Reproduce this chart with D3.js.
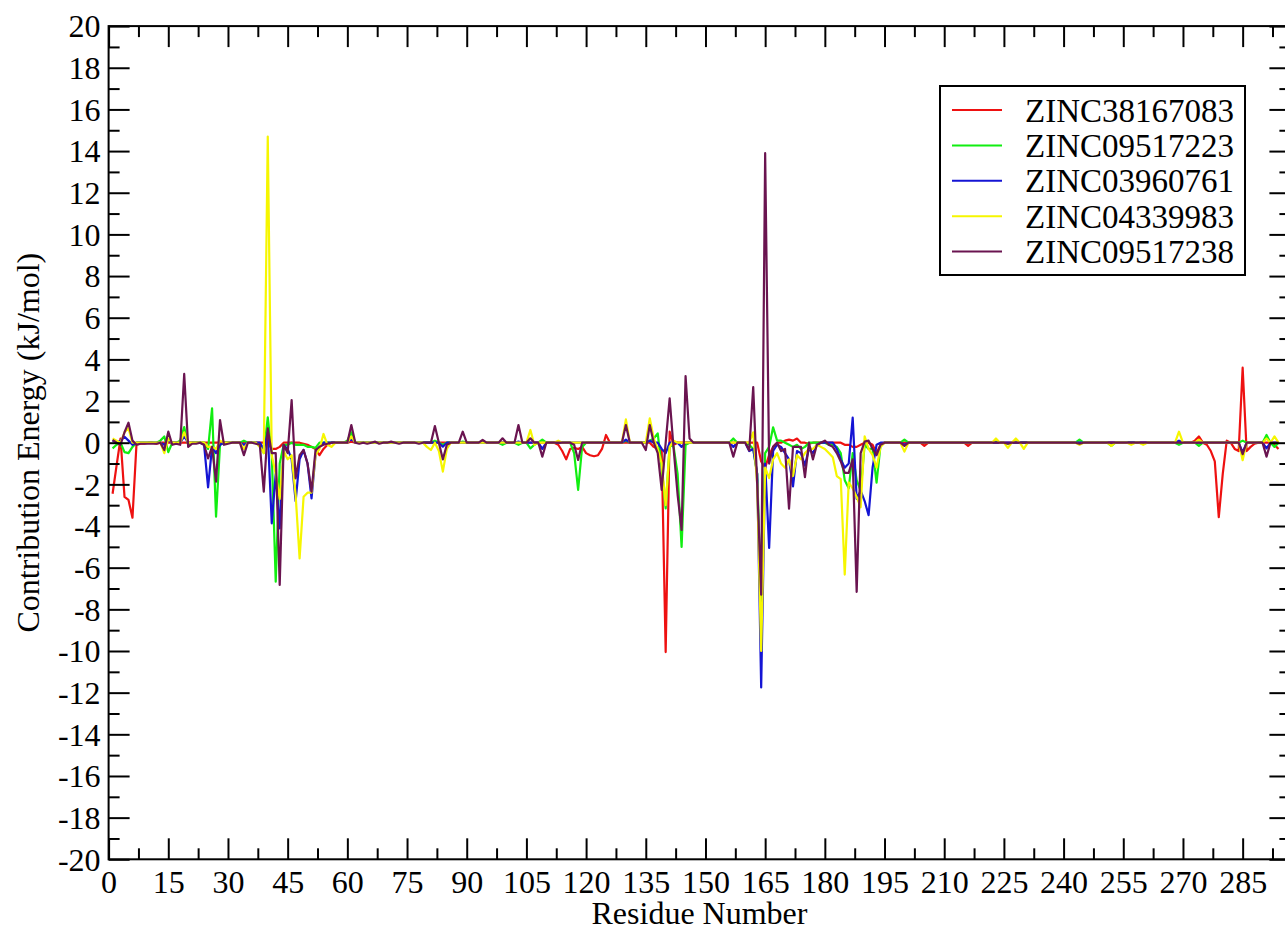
<!DOCTYPE html>
<html>
<head>
<meta charset="utf-8">
<script src="https://cdn.jsdelivr.net/npm/d3@7"></script>
<style>
  html, body { margin: 0; padding: 0; background: #ffffff; }
  svg { display: block; }
</style>
</head>
<body>
<svg id="chart" width="1285" height="930"></svg>
<script>
// ---------------- data ----------------
const firstResidue = 1;
const seriesNames = ["ZINC38167083", "ZINC09517223", "ZINC03960761", "ZINC04339983", "ZINC09517238"];
const xTickValues = [0, 15, 30, 45, 60, 75, 90, 105, 120, 135, 150, 165, 180, 195, 210, 225, 240, 255, 270, 285];
const yTickValues = [-20, -18, -16, -14, -12, -10, -8, -6, -4, -2, 0, 2, 4, 6, 8, 10, 12, 14, 16, 18, 20];

// ZINC38167083 (residues 1..294)
const red = [
-2.45,-1.1,0.2,-2.6,-2.75,-3.6,-0.1,-0.05,-0.05,0,
0,-0.05,0,0,0,0,0,0,0,0,
0,0,0,0,0,0,0,0,0,0,
0,0,0,0,0,0,0,0,0,0,
-0.3,-0.3,-0.2,0,0,0,0,0,-0.05,-0.1,
-0.2,-0.3,-0.6,-0.3,-0.1,0,0,0,0,0,
0.05,0,0,0,0,0,0,0,0,0,
0,0,0,0,0,0,0,0,0,0,
0,0,0,0,0,0,0,0,0,0,
0,0,0,0,0,0,0,0,0,0,
0,0,0,0,0,0,0,0,0,0,
0,0,-0.1,-0.4,-0.8,-0.3,-0.25,-0.3,-0.2,-0.5,
-0.6,-0.65,-0.6,-0.3,0.37,0,0,0,0,0,
0,0,0,0,0,0,-0.2,-0.3,-0.4,-10.05,
0.53,-0.1,0,0,0,0,0,0,0,0,
0,0,0,0,0,0,0,0,0,0,
0,0,0,-0.9,-1.2,-0.6,-0.2,0,0,0.1,
0.15,0.1,0.2,0,0,-0.05,0,0,0,0,
0,0,0,0,-0.1,-0.1,-0.2,-0.2,-0.1,0,
0,-0.1,-0.5,-0.1,0,0,0,0,0,0,
0,0,0,0,-0.15,0,0,0,0,0,
0,0,0,0,0,-0.15,0,0,0,0,
0,0,0,0,0,0,0,0,0,0,
0,0,0,0,0,0,0,0,0,0,
0,0,0,0,0,0,0,0,0,0,
0,0,0,0,0,0,0,0,0,0,
0,0,0,0,0,0,0,0,0,0,
0,0,0.1,0.3,0,-0.1,-0.4,-0.9,-3.58,-1.5,
0.1,0,-0.3,-0.4,3.6,-0.4,-0.2,-0.05,0,0,
0,0,-0.1,-0.3
];

// ZINC09517223
const green = [
-0.27,-0.1,0,-0.45,-0.5,-0.2,0,0,0,0,
0,0,0.1,0.3,-0.45,0,0,0.1,0.75,-0.1,
0,0,0,0,-0.3,1.65,-3.55,-0.1,0,0,
0,0,0,0.1,0,0,0,-0.1,-0.5,1.22,
-0.5,-6.67,-1.0,-0.1,-0.1,0,-0.1,-0.1,-0.1,-0.2,
-0.2,-0.25,0,0,0,0,0,0,0,0.1,
0.5,0,0,0,0,0,0,0,0,0,
0,0,0,0,0,0,0,0,0,0,
0,0.1,0,-0.1,0,0,0,0,0.05,0,
0,0,0,0,0,0,0,0,-0.1,0,
0,0,-0.1,0,0,-0.27,-0.1,0,0.15,0,
0,0,0,0,0,0,-0.5,-2.27,-0.2,0,
0,0,0,0,0,0,0,0,0,0.1,
0,0,0,0,0,0.1,0.2,0.45,-1.2,-3.15,
-0.1,-0.2,-1.5,-5.0,-0.1,0,0,0,0,0,
0,0,0,0,0,0,0.2,0,0,0,
-0.1,-0.3,-1.5,-7.6,-0.5,-0.2,0.74,0.1,0.1,0,
-0.1,-0.2,-0.1,-0.3,-0.2,0,0,0,0,0,
-0.1,-0.1,-0.2,-0.5,-1.8,-2.19,-0.5,-1.8,-2.3,-0.1,
-0.3,-0.3,-1.92,-0.1,0,0,0,0,0,0.15,
0,0,0,0,0,0,0,0,0,0,
0,0,0,0,0,0,0,0,0,0,
0,0,0.05,0,0,-0.05,0,0,0,0,
0,0,0,0,0,0,0,0,0,0,
0,0,0,0.15,0,0,0,0,0,0,
0,-0.15,0,0,0,0,0,0,0,-0.05,
0,0,0,0,0,0,0,0,-0.1,0,
0,0,0,-0.15,0,0,0,0,0,0,
0,0,0,0,0.1,0,0,0,0,0,
0.37,0,-0.2,0
];

// ZINC03960761
const blue = [
0.1,0,0.1,0.29,0.1,-0.1,0,0,0,0,
0,0,0,-0.1,0.1,0,0,0,0.3,0,
0,0,0,-0.1,-2.14,-0.2,-0.5,-0.1,0,0,
0,0,0,-0.1,0,0,0,0,-0.3,0.5,
-3.87,-1.5,-4.11,-0.11,-0.3,-0.8,-2.8,-0.8,-0.35,-1.0,
-2.67,-0.6,-0.2,0,0,0,0,0,0,0,
0.2,0,0,0,0,0,0,0,0,0,
0,0,0,0,0,0,0,0,0,0,
0,0,0,-0.19,0,0,0,0,0,0,
0,0,0,0,0,0,0,0,0,0,
0,0,0.05,0,0,0,0,0,-0.3,0,
0,0,0,0,0,0,0,0,0,0,
0,0,0,0,0,0,0,0,0,0.15,
0,0,0,0,0,0.1,0,0,-0.3,-0.5,
0,0,0,-0.2,0,0,0,0,0,0,
0,0,0,0,0,0,-0.2,0,0,0,
-0.4,-0.3,-1.5,-11.75,-1.0,-5.05,-0.4,-0.1,-0.2,-0.5,
-0.8,-2.1,-0.4,-0.5,-1.1,-0.3,-0.5,-0.1,0,0,
0,0,-0.3,-0.8,-1.2,-1.0,1.2,-2.7,-2.3,-2.8,
-3.48,-1.19,-0.1,0,0,0,0,0,0,-0.1,
0,0,0,0,0,0,0,0,0,0,
0,0,0,0,0,0,0,0,0,0,
0,0,0,0,0,0,0,0,0,0,
0,0,0,0,0,0,0,0,0,0,
0,0,0,0,0,0,0,0,0,0,
0,0,0,0,0,0,0,0,0,0,
0,0,0,0,0,0,0,0,0.1,0,
0,0,0,0,0,0,0,0,0,0,
0,0,0,0,-0.47,0,0,0,0,0,
-0.27,0,0,0
];

// ZINC04339983
const yellow = [
0.2,0.1,0,0.5,0.7,0,0,0,0,0,
0,0,0,-0.5,0.2,0,0,0,0.5,0,
0,0,0,0,-0.2,-0.2,-0.3,0.1,0,0,
0,0,0,-0.3,0,0,0,-0.2,-0.5,14.7,
-0.6,-1.5,-2.7,-0.4,-0.8,-0.6,-2.5,-5.55,-2.6,-2.4,
-2.4,-0.6,-0.3,0.42,-0.1,-0.2,0,0,0,0,
0.3,0,0,0,0,0,0,0,0,0,
0,0,0,0,0,0,0,0,0,-0.2,
-0.35,0,-0.4,-1.39,-0.3,0,0,0,0,0,
0,0,0,0,0,0,0,0,0,0,
0,0,0,0,0,0.61,-0.1,0,0,0,
0,0,0.1,0,0,0,0,0,0,0,
0,0,0,0,0,0,0,0,0,1.12,
0,0,0,0,0,1.17,0.2,-0.3,-1.0,-3.0,
-0.2,0.1,0,0,0,0,0,0,0,0,
0,0,0,0,0,0,0,0,0,0,
0,0.5,-2.0,-10.0,-1.2,-1.7,-0.8,-0.5,-1.0,-1.2,
-0.8,-1.6,-0.6,-0.8,-0.5,-0.3,-0.3,-0.1,-0.2,-0.3,
-0.5,-0.7,-1.6,-1.75,-6.33,-1.9,-2.2,-2.6,-3.1,0.3,
-0.3,-0.6,-1.2,-0.2,0,0,0,0,0,-0.43,
0,0,0,0,0,0,0,0,0,0,
0,0,0,0,0,0,0,0,0,0,
0,0,0.2,0,0,-0.25,0,0.2,0,-0.3,
0,0,0,0,0,0,0,0,0,0,
0,0,0,-0.1,0,0,0,0,0,0,
0,-0.15,0,0,0,0,-0.1,0,0,-0.1,
0,0,0,0,0,0,0,0,0.53,0,
0,0,0,0.15,0,0,0,0,0,0,
0,0,0,0,-0.84,0,0,0,0,0,
0.2,0,0.3,0
];

// ZINC09517238
const maroon = [
0.13,0,-0.1,0.5,0.96,0.1,-0.1,-0.05,-0.05,-0.05,
-0.05,-0.05,0,-0.35,0.53,-0.1,-0.05,-0.1,3.3,-0.2,
-0.05,-0.05,0,-0.1,-0.75,-0.2,-1.87,1.09,-0.1,-0.05,
0,0,0,-0.6,0,0,-0.05,-0.1,-2.35,0.69,
-0.5,-0.5,-6.83,-0.1,-0.5,2.05,-1.71,-0.6,-0.35,-1.0,
-2.35,-0.35,-0.2,-0.1,-0.05,0,0,0,0,0,
0.85,0,-0.05,0,-0.05,0,0.05,-0.05,0,0,
0.05,0,-0.05,0,0,0,0,-0.05,0,0,
0,0.8,0,-0.8,-0.1,0,0,0,0.53,0,
0,0,0,0.13,0,0,0,0,0.21,0,
0,0,0.85,0,0,0.21,0,0,-0.67,0,
0,0,0,0,0,0,-0.1,-0.83,0,0,
0,0,0,0,0,0,0,0,0,0.85,
0,0,0,0,-0.35,0.85,0,-0.5,-2.27,0,
2.13,-0.3,-2.5,-4.19,3.2,0.2,0,0,0,0,
0,0,0,0,0,0,-0.67,0,0,0,
-0.37,2.67,-2.0,-7.3,13.9,-1.0,-0.2,0,-0.4,-0.3,
-3.17,-0.2,-0.2,-0.2,-1.65,0,-0.8,-0.1,0,0.1,
-0.1,-0.2,-0.5,-0.9,-1.45,-1.45,-0.8,-7.16,-0.5,0.05,
0.1,-0.3,-0.6,-0.1,0,0,0,0,0,-0.15,
0,0,0,0,0,0,0,0,0,0,
0,0,0,0,0,0,0,0,0,0,
0,0,0,0,0,-0.05,0,0,0,0,
0,0,0,0,0,0,0,0,0,0,
0,0,0,-0.05,0,0,0,0,0,0,
0,0,0,0,0,0,0,0,0,0,
0,0,0,0,0,0,0,0,0,0,
0,0,0,0,0,0,0,0,0,0,
0,0,0,0,-0.55,0,0,0,0,0,
-0.67,0,0,0
];

const seriesValues = [red, green, blue, yellow, maroon];
const seriesColors = ["#ee1111", "#11ee11", "#1414d4", "#f6f600", "#6a1450"];

// single family name (Times-metric serif)
const FONT = '"Liberation Serif"';

// ---------------- layout ----------------
const svg = d3.select("#chart");
const plot = { left: 108.6, right: 1290.4, top: 26.1, bottom: 859.3 };
const x = d3.scaleLinear().domain([0, 297]).range([plot.left, plot.right]);
const y = d3.scaleLinear().domain([-20, 20]).range([plot.bottom, plot.top]);

const majorLen = 21, minorLen = 11;
const xMinor = d3.range(0, 297.01, 7.5).filter(v => !xTickValues.includes(v));
const yMinor = d3.range(-19, 20, 2);

// series lines
const line = d3.line().x((d, i) => x(i + firstResidue)).y(d => y(d));
const gLines = svg.append("g");
seriesValues.forEach((vals, k) => {
  gLines.append("path")
    .datum(vals)
    .attr("d", line)
    .attr("fill", "none")
    .attr("stroke", seriesColors[k])
    .attr("stroke-width", 2.2)
    .attr("stroke-linejoin", "round");
});

// frame
svg.append("rect")
  .attr("x", plot.left).attr("y", plot.top)
  .attr("width", plot.right - plot.left).attr("height", plot.bottom - plot.top)
  .attr("fill", "none").attr("stroke", "#000").attr("stroke-width", 2);

// inward ticks on all four sides (d3 axes)
function tickAxis(axisFn, scale, values, len, transform) {
  const g = svg.append("g").attr("transform", transform)
    .call(axisFn(scale).tickValues(values).tickSize(len).tickFormat(""));
  g.select(".domain").remove();
  g.selectAll(".tick text").remove();
  g.selectAll(".tick line").attr("stroke", "#000").attr("stroke-width", 2);
  return g;
}
tickAxis(d3.axisTop, x, xTickValues, majorLen, `translate(0,${plot.bottom})`);
tickAxis(d3.axisTop, x, xMinor, minorLen, `translate(0,${plot.bottom})`);
tickAxis(d3.axisBottom, x, xTickValues, majorLen, `translate(0,${plot.top})`);
tickAxis(d3.axisBottom, x, xMinor, minorLen, `translate(0,${plot.top})`);
tickAxis(d3.axisRight, y, yTickValues, majorLen, `translate(${plot.left},0)`);
tickAxis(d3.axisRight, y, yMinor, minorLen, `translate(${plot.left},0)`);
tickAxis(d3.axisLeft, y, yTickValues, majorLen, `translate(${plot.right},0)`);
tickAxis(d3.axisLeft, y, yMinor, minorLen, `translate(${plot.right},0)`);

// tick labels
const xLab = svg.append("g").attr("transform", `translate(0,${plot.bottom})`)
  .call(d3.axisBottom(x).tickValues(xTickValues).tickSize(0).tickPadding(0).tickFormat(d => String(d)));
xLab.attr("font-family", "Liberation Serif").attr("font-size", 32);
xLab.select(".domain").remove();
xLab.selectAll("text").attr("y", 34).attr("dy", 0).attr("font-size", 32)
  .attr("fill", "#000").style("font-family", FONT);

const yLab = svg.append("g").attr("transform", `translate(${plot.left},0)`)
  .call(d3.axisLeft(y).tickValues(yTickValues).tickSize(0).tickPadding(0).tickFormat(d => String(d)));
yLab.attr("font-family", "Liberation Serif").attr("font-size", 32);
yLab.select(".domain").remove();
yLab.selectAll("text").attr("x", -8).attr("dy", "0.34em").attr("font-size", 32)
  .attr("fill", "#000").style("font-family", FONT);

// axis titles
svg.append("text")
  .attr("x", (plot.left + plot.right) / 2).attr("y", 924)
  .attr("text-anchor", "middle").attr("font-size", 32)
  .style("font-family", FONT)
  .text("Residue Number");
svg.append("text")
  .attr("transform", `translate(39,${(plot.top + plot.bottom) / 2}) rotate(-90)`)
  .attr("text-anchor", "middle").attr("font-size", 32)
  .style("font-family", FONT)
  .text("Contribution Energy (kJ/mol)");

// legend
const legend = svg.append("g");
legend.append("rect")
  .attr("x", 940).attr("y", 86).attr("width", 305).attr("height", 189)
  .attr("fill", "#fff").attr("stroke", "#000").attr("stroke-width", 2);
seriesNames.forEach((name, i) => {
  const ly = 110 + i * 35.4;
  legend.append("line")
    .attr("x1", 952).attr("x2", 1002).attr("y1", ly).attr("y2", ly)
    .attr("stroke", seriesColors[i]).attr("stroke-width", 2);
  legend.append("text")
    .attr("x", 1025).attr("y", ly + 11.5)
    .attr("font-size", 33)
    .style("font-family", FONT)
    .text(name);
});
</script>
</body>
</html>
